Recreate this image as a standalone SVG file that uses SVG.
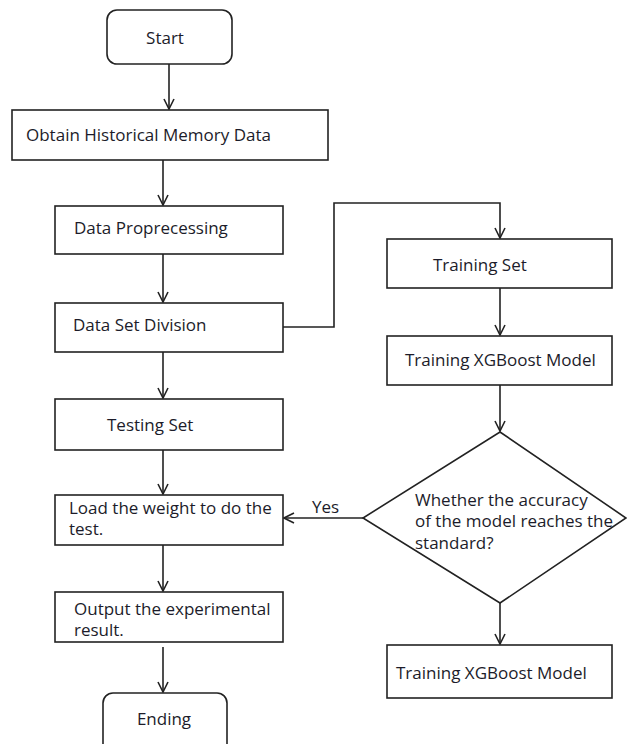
<svg xmlns="http://www.w3.org/2000/svg" width="627" height="744" viewBox="0 0 627 744">
<style>
.box{fill:#fff;stroke:#222;stroke-width:1.6}
.ln{fill:none;stroke:#222;stroke-width:1.6}
text{font-family:"Open Sans","Liberation Sans",sans-serif;font-size:17px;fill:#1c1c2a}
</style>
<defs>
<marker id="ah" viewBox="0 0 12 12" refX="11" refY="6" markerWidth="12" markerHeight="12" markerUnits="userSpaceOnUse" orient="auto">
<path d="M1,1 L11,6 L1,11" fill="none" stroke="#222" stroke-width="1.6"/>
</marker>
</defs>
<rect width="627" height="744" fill="#fff"/>
<g id="connectors">
<line class="ln" x1="169" y1="64" x2="169" y2="109" marker-end="url(#ah)"/>
<line class="ln" x1="163" y1="160" x2="163" y2="205" marker-end="url(#ah)"/>
<line class="ln" x1="163" y1="254" x2="163" y2="302" marker-end="url(#ah)"/>
<line class="ln" x1="163" y1="352" x2="163" y2="398" marker-end="url(#ah)"/>
<line class="ln" x1="163" y1="450" x2="163" y2="494" marker-end="url(#ah)"/>
<line class="ln" x1="163" y1="545" x2="163" y2="591" marker-end="url(#ah)"/>
<line class="ln" x1="163" y1="647" x2="163" y2="692" marker-end="url(#ah)"/>
<polyline class="ln" points="283,327 334,327 334,203 500,203 500,238" marker-end="url(#ah)"/>
<line class="ln" x1="500" y1="288" x2="500" y2="335" marker-end="url(#ah)"/>
<line class="ln" x1="500" y1="385" x2="500" y2="431" marker-end="url(#ah)"/>
<line class="ln" x1="363" y1="518" x2="284" y2="518" marker-end="url(#ah)"/>
<line class="ln" x1="500" y1="603" x2="500" y2="644" marker-end="url(#ah)"/>
<text x="312" y="513">Yes</text>
</g>
<g id="start">
<rect class="box" x="107" y="10" width="125" height="54" rx="10"/>
<text x="165" y="44" text-anchor="middle">Start</text>
</g>
<g id="obtain">
<rect class="box" x="12" y="110" width="316" height="50"/>
<text x="26" y="141">Obtain Historical Memory Data</text>
</g>
<g id="preprocess">
<rect class="box" x="55" y="206" width="228" height="48"/>
<text x="74" y="234">Data Proprecessing</text>
</g>
<g id="division">
<rect class="box" x="55" y="303" width="228" height="49"/>
<text x="73" y="331">Data Set Division</text>
</g>
<g id="testing">
<rect class="box" x="55" y="399" width="228" height="51"/>
<text x="107" y="431">Testing Set</text>
</g>
<g id="load">
<rect class="box" x="55" y="495" width="228" height="50"/>
<text x="69" y="514">Load the weight to do the</text>
<text x="69" y="535">test.</text>
</g>
<g id="output">
<rect class="box" x="55" y="592" width="228" height="50"/>
<text x="74" y="615">Output the experimental</text>
<text x="74" y="636">result.</text>
</g>
<g id="ending">
<rect class="box" x="103" y="693" width="124" height="70" rx="10"/>
<text x="164" y="725" text-anchor="middle">Ending</text>
</g>
<g id="trainset">
<rect class="box" x="387" y="239" width="225" height="49"/>
<text x="433" y="271">Training Set</text>
</g>
<g id="trainmodel1">
<rect class="box" x="387" y="336" width="225" height="49"/>
<text x="405" y="366">Training XGBoost Model</text>
</g>
<g id="decision">
<polygon class="box" points="500,432 626,518 500,603 363,518"/>
<text x="415" y="506">Whether the accuracy</text>
<text x="415" y="527">of the model reaches the</text>
<text x="415" y="549">standard?</text>
</g>
<g id="trainmodel2">
<rect class="box" x="387" y="645" width="225" height="53"/>
<text x="396" y="679">Training XGBoost Model</text>
</g>
</svg>
